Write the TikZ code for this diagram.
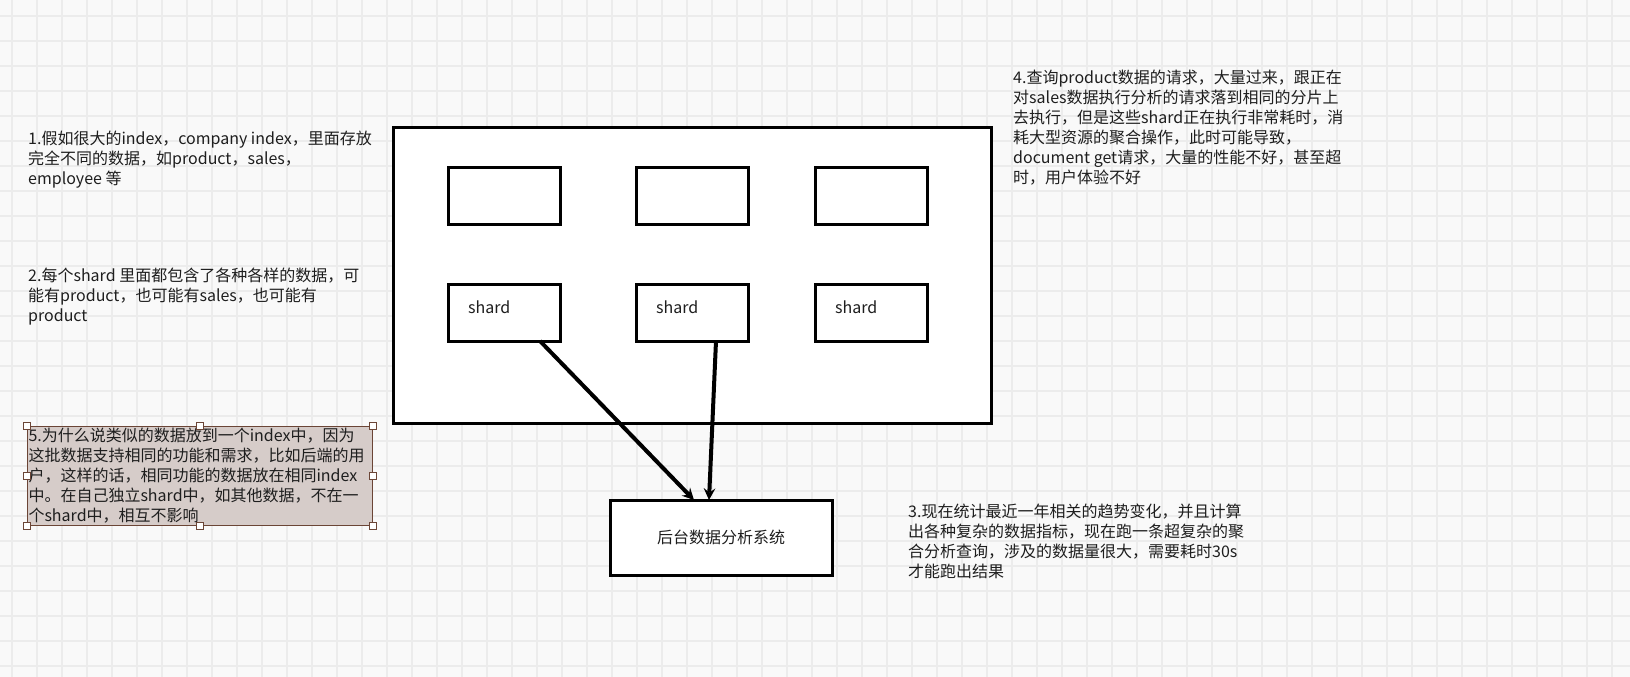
\documentclass[tikz,border=0pt]{standalone}
\usepackage{fontspec}
\setmainfont{Noto Sans CJK SC}
\usetikzlibrary{arrows,shapes}
\usetikzlibrary{positioning}
\definecolor{fg}{HTML}{1E1E1E}
\definecolor{paper}{HTML}{F9F9F9}
\definecolor{gridline}{HTML}{ECECEC}
\definecolor{notefill}{HTML}{D6CCC9}
\definecolor{noteline}{HTML}{6B4536}
\tikzstyle{box}=[draw, line width=3pt, fill=white, minimum width=112pt,
minimum height=57pt, inner sep=0pt, outer sep=0pt]
\tikzstyle{frame}=[box, minimum width=598pt, minimum height=296pt]
\tikzstyle{txt}=[text=fg, font=\fontsize{16}{20}\selectfont, align=left,
inner sep=0pt, anchor=north west]
\tikzstyle{notebox}=[txt, draw=noteline, fill=notefill, line width=1pt,
text width=343pt, minimum height=99pt, inner xsep=1pt]
\tikzstyle{handle}=[draw=noteline, fill=white, line width=1pt, minimum size=7pt, inner sep=0pt]
\tikzstyle{linkarrow}=[->, >=stealth, line width=4pt]

\begin{document}
\begin{tikzpicture}[x=1pt, y=-1pt]

    \useasboundingbox (0,0) rectangle (1630,677);
    \fill[paper] (0,0) rectangle (1630,677);
    \foreach \x in {12,37,...,1630} \draw[gridline, line width=1.5pt] (\x,0) -- (\x,677);
    \foreach \y in {16,41,...,677} \draw[gridline, line width=1.5pt] (0,\y) -- (1630,\y);

    \node[frame, anchor=north west] (index) at (393,127) {};

    \node[box, anchor=north west] (b1) at (448,167) {};
    \node[box, right=76pt of b1] (b2) {};
    \node[box, right=67pt of b2] (b3) {};

    \node[box, below=60pt of b1] (s1) {};
    \node[box, below=60pt of b2] (s2) {};
    \node[box, below=60pt of b3] (s3) {};
    \node[txt, right=20pt of s1.west, yshift=5.5pt] (l1) {shard};
    \node[txt, right=20pt of s2.west, yshift=5.5pt] (l2) {shard};
    \node[txt, right=20pt of s3.west, yshift=5.5pt] (l3) {shard};

    \node[box, anchor=north west, minimum width=222pt, minimum height=75pt,
          text=fg, font=\fontsize{16}{20}\selectfont] (sys) at (610,500) {后台数据分析系统};
    \draw[linkarrow] ([xshift=36pt]s1.south) -- ([xshift=-27pt]sys.north);
    \draw[linkarrow] ([xshift=24pt]s2.south) -- ([xshift=-12pt]sys.north);

    \node[txt] (t1) at (28,131) {1.假如很大的index，company index，里面存放\\完全不同的数据，如product，sales，\\employee 等};
    \node[txt] (t2) at (28,268) {2.每个shard 里面都包含了各种各样的数据，可\\能有product，也可能有sales，也可能有\\product};

    \node[notebox] (t5) at (27,426) {5.为什么说类似的数据放到一个index中，因为\\这批数据支持相同的功能和需求，比如后端的用\\户，这样的话，相同功能的数据放在相同index\\中。在自己独立shard中，如其他数据，不在一\\个shard中，相互不影响};
    \foreach \a/\n in {north west/1, north/2, north east/3, west/4, east/5, south west/6, south/7, south east/8}
        \node[handle] (h\n) at (t5.\a) {};

    \node[txt] (t4) at (1013,70) {4.查询product数据的请求，大量过来，跟正在\\对sales数据执行分析的请求落到相同的分片上\\去执行，但是这些shard正在执行非常耗时，消\\耗大型资源的聚合操作，此时可能导致，\\document get请求，大量的性能不好，甚至超\\时，用户体验不好};
    \node[txt] (t3) at (908,504) {3.现在统计最近一年相关的趋势变化，并且计算\\出各种复杂的数据指标，现在跑一条超复杂的聚\\合分析查询，涉及的数据量很大，需要耗时30s\\才能跑出结果};

\end{tikzpicture}
\end{document}
